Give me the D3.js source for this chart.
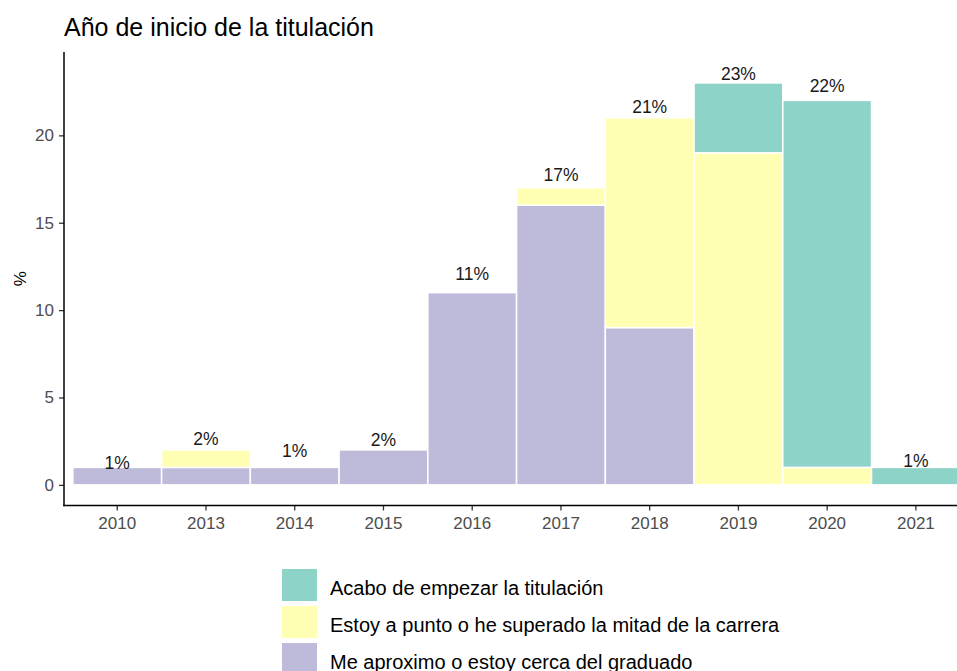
<!DOCTYPE html>
<html>
<head>
<meta charset="utf-8">
<script src="https://cdn.jsdelivr.net/npm/d3@7"></script>
<style>
  html, body { margin: 0; padding: 0; background: #fff; }
  svg { display: block; font-family: "Liberation Sans", Arial, sans-serif; }
</style>
</head>
<body>
<svg id="chart" width="957" height="671"></svg>
<script>
// ---- data ----
const categories = ["2010", "2013", "2014", "2015", "2016", "2017", "2018", "2019", "2020", "2021"];
const seriesNames = [
  "Me aproximo o estoy cerca del graduado",
  "Estoy a punto o he superado la mitad de la carrera",
  "Acabo de empezar la titulación"
];
const meAproximo = [1, 1, 1, 2, 11, 16, 9, 0, 0, 0];
const estoyPunto = [0, 1, 0, 0, 0, 1, 12, 19, 1, 0];
const acaboEmpezar = [0, 0, 0, 0, 0, 0, 0, 4, 21, 1];
const labelTexts = ["1%", "2%", "1%", "2%", "11%", "17%", "21%", "23%", "22%", "1%"];
const labelPos = [1.27, 2.62, 1.96, 2.60, 12.07, 17.73, 21.62, 23.50, 22.82, 1.40];
const yTicks = [0, 5, 10, 15, 20];
const legendOrder = [
  "Acabo de empezar la titulación",
  "Estoy a punto o he superado la mitad de la carrera",
  "Me aproximo o estoy cerca del graduado"
];
const colors = ["#BEBADA", "#FFFFB3", "#8DD3C7"];

// ---- layout ----
const svg = d3.select("#chart");
const panel = { left: 64, top: 52, bottom: 505.5 };
const step = 88.74;

const x = d3.scaleBand()
  .domain(categories)
  .range([panel.left, panel.left + step * 10.2])
  .paddingInner(0)
  .paddingOuter(0.1);

const y = d3.scaleLinear()
  .domain([-1.18, 24.77])
  .range([panel.bottom, panel.top]);

const color = d3.scaleOrdinal().domain(seriesNames).range(colors);

const rows = categories.map((c, i) => ({
  cat: c,
  [seriesNames[0]]: meAproximo[i],
  [seriesNames[1]]: estoyPunto[i],
  [seriesNames[2]]: acaboEmpezar[i]
}));
const stacked = d3.stack().keys(seriesNames)(rows);

// clip to visible area
svg.append("defs").append("clipPath").attr("id", "clip")
  .append("rect").attr("x", panel.left).attr("y", 0).attr("width", 957 - panel.left).attr("height", 671);

const g = svg.append("g").attr("clip-path", "url(#clip)");

g.selectAll("g.series")
  .data(stacked)
  .join("g")
  .attr("class", "series")
  .attr("fill", d => color(d.key))
  .selectAll("rect")
  .data(d => d.filter(p => p[1] - p[0] > 0))
  .join("rect")
  .attr("x", d => x(d.data.cat))
  .attr("width", x.bandwidth())
  .attr("y", d => y(d[1]))
  .attr("height", d => y(d[0]) - y(d[1]))
  .attr("stroke", "#ffffff")
  .attr("stroke-width", 1.5);

// bar labels
g.selectAll("text.lbl")
  .data(categories)
  .join("text")
  .attr("class", "lbl")
  .attr("x", d => x(d) + x.bandwidth() / 2)
  .attr("y", (d, i) => y(labelPos[i]))
  .attr("dy", "0.35em")
  .attr("text-anchor", "middle")
  .attr("font-size", 17.5)
  .attr("fill", "#1a1a1a")
  .text((d, i) => labelTexts[i]);

// axes
const yAxis = d3.axisLeft(y).tickValues(yTicks).tickSize(5).tickPadding(5);
const yG = svg.append("g").attr("transform", `translate(${panel.left},0)`).call(yAxis);
yG.select(".domain").remove();
yG.selectAll(".tick line").attr("stroke", "#333333").attr("stroke-width", 1.3);
yG.selectAll(".tick text").attr("font-size", 17).attr("fill", "#4D4D4D")
  .attr("font-family", "Liberation Sans, Arial, sans-serif");

const xAxis = d3.axisBottom(x).tickSize(5).tickPadding(6);
const xG = svg.append("g").attr("transform", `translate(0,${panel.bottom})`).call(xAxis);
xG.select(".domain").remove();
xG.selectAll(".tick line").attr("stroke", "#333333").attr("stroke-width", 1.3);
xG.selectAll(".tick text").attr("font-size", 17).attr("fill", "#4D4D4D")
  .attr("font-family", "Liberation Sans, Arial, sans-serif");

// axis lines
svg.append("line")
  .attr("x1", panel.left).attr("x2", panel.left)
  .attr("y1", panel.top).attr("y2", panel.bottom + 0.7)
  .attr("stroke", "#000").attr("stroke-width", 1.5);
svg.append("line")
  .attr("x1", panel.left - 0.7).attr("x2", 957)
  .attr("y1", panel.bottom).attr("y2", panel.bottom)
  .attr("stroke", "#000").attr("stroke-width", 1.5);

// axis title
svg.append("text")
  .attr("transform", `translate(26,${(panel.top + panel.bottom) / 2}) rotate(-90)`)
  .attr("text-anchor", "middle")
  .attr("font-size", 17)
  .attr("fill", "#000")
  .text("%");

// title
svg.append("text")
  .attr("x", 64)
  .attr("y", 36)
  .attr("font-size", 25)
  .attr("fill", "#000")
  .text("Año de inicio de la titulación");

// legend
const lg = svg.append("g").attr("transform", "translate(282,569)");
const li = lg.selectAll("g").data(legendOrder).join("g")
  .attr("transform", (d, i) => `translate(0,${i * 37})`);
li.append("rect")
  .attr("width", 35).attr("height", 32)
  .attr("fill", d => color(d));
li.append("text")
  .attr("x", 48).attr("y", 18.5).attr("dy", "0.35em")
  .attr("font-size", 20).attr("fill", "#000")
  .text(d => d);
</script>
</body>
</html>
